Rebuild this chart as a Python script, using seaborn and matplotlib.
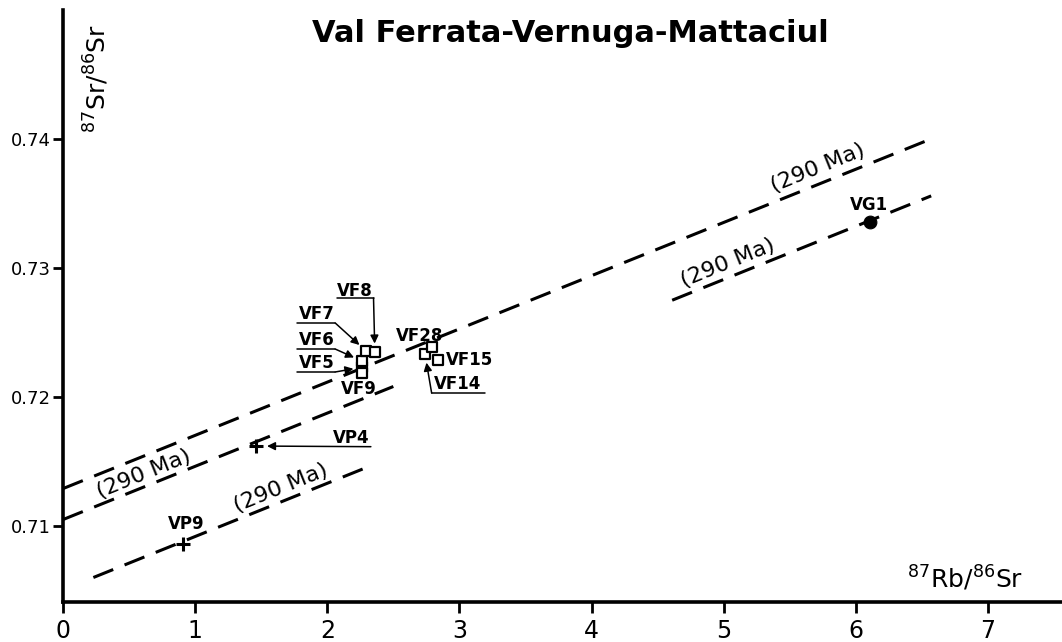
import seaborn as sns
import pandas as pd
import matplotlib.pyplot as plt
import numpy as np

# 87Rb/86Sr and 87Sr/86Sr
vf_names = ['VF5', 'VF6', 'VF7', 'VF8', 'VF9', 'VF14', 'VF15', 'VF28']
vf_rb = [2.26, 2.26, 2.29, 2.36, 2.26, 2.74, 2.84, 2.79]
vf_sr = [0.7223, 0.7228, 0.7236, 0.7235, 0.7219, 0.7233, 0.7229, 0.7239]

vp_names = ['VP4', 'VP9']
vp_rb = [1.46, 0.91]
vp_sr = [0.7162, 0.7086]

vg_names = ['VG1']
vg_rb = [6.11]
vg_sr = [0.7336]

# 290 Ma reference isochrons: initial ratio and x range
iso_age = 290
iso_slope = np.exp(1.42e-11 * iso_age * 1e6) - 1
iso_intercept = [0.7129, 0.7105, 0.70506, 0.70848]
iso_xstart = [0.0, 0.0, 0.23, 4.61]
iso_xend = [6.55, 2.50, 2.33, 6.57]
# "(290 Ma)" label centres
iso_label_x = [0.61, 1.65, 5.71, 5.03]
iso_label_y = [0.71403, 0.71295, 0.73775, 0.73039]

# sample label positions (text centre) and leader/underline ends
lab_pos = {'VF5': (1.92, 0.72265), 'VF6': (1.92, 0.72445), 'VF7': (1.92, 0.72640),
           'VF8': (2.21, 0.72825), 'VF9': (2.24, 0.72065), 'VF14': (2.99, 0.72100),
           'VF15': (3.08, 0.72290), 'VF28': (2.70, 0.72470),
           'VP4': (2.18, 0.71680), 'VP9': (0.93, 0.71015), 'VG1': (6.10, 0.73485)}
underlines = {'VF5': (1.77, 2.06, 0.72194), 'VF6': (1.77, 2.06, 0.72372),
              'VF7': (1.77, 2.06, 0.72574), 'VF8': (2.07, 2.35, 0.72767),
              'VF14': (2.79, 3.19, 0.72030), 'VP4': (1.57, 2.33, 0.71615)}

sns.set_style('ticks')
plt.rcParams['font.family'] = ['DejaVu Sans']
plt.rcParams['mathtext.default'] = 'regular'
plt.rcParams['text.color'] = 'black'
plt.rcParams['xtick.color'] = 'black'
plt.rcParams['ytick.color'] = 'black'
plt.rcParams['axes.edgecolor'] = 'black'

fig = plt.figure(figsize=(10.62, 6.42), dpi=100)
ax = fig.add_axes([0.0593, 0.0623, 0.9407, 0.9221])

for b, x0, x1 in zip(iso_intercept, iso_xstart, iso_xend):
    xs = [x0, x1]
    ys = [b + iso_slope * x for x in xs]
    sns.lineplot(x=xs, y=ys, ax=ax, color='black', linewidth=2.2,
                 linestyle=(0, (7, 4)), dashes=False)

vf = pd.DataFrame({'sample': vf_names, 'rb': vf_rb, 'sr': vf_sr})
vp = pd.DataFrame({'sample': vp_names, 'rb': vp_rb, 'sr': vp_sr})
vg = pd.DataFrame({'sample': vg_names, 'rb': vg_rb, 'sr': vg_sr})

sns.scatterplot(data=vf, x='rb', y='sr', ax=ax, marker='s', s=55,
                facecolor='white', edgecolor='black', linewidth=1.6, zorder=5)
sns.scatterplot(data=vp, x='rb', y='sr', ax=ax, marker='+', s=110,
                color='black', linewidth=2.2, zorder=5)
sns.scatterplot(data=vg, x='rb', y='sr', ax=ax, marker='o', s=85,
                color='black', edgecolor='black', zorder=5)

# isochron labels
ang = 22
for lx, ly in zip(iso_label_x, iso_label_y):
    ax.text(lx, ly, '(290 Ma)', rotation=ang, rotation_mode='anchor',
            ha='center', va='center', fontsize=16)

# sample labels
all_pts = dict(zip(vf_names + vp_names + vg_names, vf_rb + vp_rb + vg_rb))
all_sr = dict(zip(vf_names + vp_names + vg_names, vf_sr + vp_sr + vg_sr))
for name, (tx, ty) in lab_pos.items():
    ax.text(tx, ty, name, ha='center', va='center', fontsize=12,
            fontweight='bold')

arrow = dict(arrowstyle='-|>', color='black', lw=1.1, mutation_scale=12,
             shrinkA=0, shrinkB=6)
for name, (u0, u1, uy) in underlines.items():
    px, py = all_pts[name], all_sr[name]
    if name in ('VF5', 'VF6', 'VF7', 'VF8'):
        ax.plot([u0, u1], [uy, uy], color='black', lw=1.1)
        ax.annotate('', xy=(px, py), xytext=(u1, uy), arrowprops=arrow)
    elif name == 'VF14':
        ax.plot([u0, u1], [uy, uy], color='black', lw=1.1)
        ax.annotate('', xy=(px, py), xytext=(u0, uy), arrowprops=arrow)
    else:
        ax.annotate('', xy=(px, py), xytext=(u1, uy),
                    arrowprops=dict(arrow, shrinkB=8))

ax.set_xlim(0, 7.56)
ax.set_ylim(0.70411, 0.7500)
ax.set_xticks(range(0, 8))
ax.set_yticks([0.71, 0.72, 0.73, 0.74])
ax.set_yticklabels(['0.71', '0.72', '0.73', '0.74'])
ax.tick_params(axis='x', labelsize=17, width=2, length=8, pad=4)
ax.tick_params(axis='y', labelsize=13, width=2, length=7, pad=2)
for side in ('top', 'right'):
    ax.spines[side].set_visible(False)
for side in ('left', 'bottom'):
    ax.spines[side].set_linewidth(2.6)
ax.set_xlabel('')
ax.set_ylabel('')

ax.text(0.5075, 0.961, 'Val Ferrata-Vernuga-Mattaciul', transform=ax.transAxes,
        ha='center', va='center', fontsize=22, fontweight='bold')
ax.text(0.034, 0.885, '$^{87}$Sr/$^{86}$Sr', transform=ax.transAxes,
        rotation=90, ha='center', va='center', fontsize=18)
ax.text(6.83, 0.70597, '$^{87}$Rb/$^{86}$Sr', ha='center', va='center', fontsize=18)

plt.savefig('out.png', dpi=100)
